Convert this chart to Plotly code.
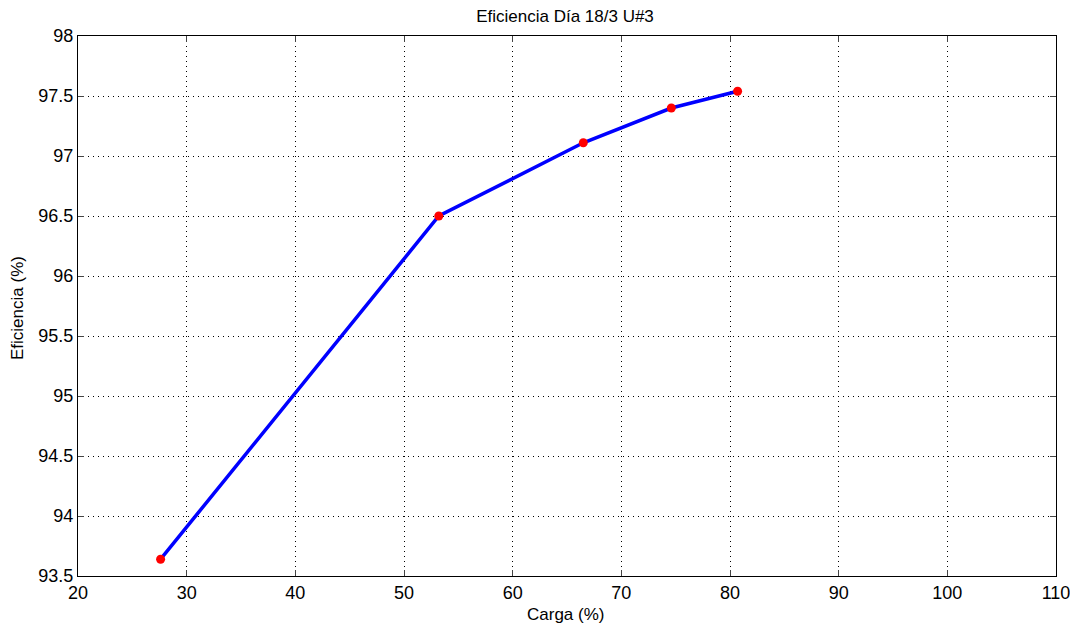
import plotly.graph_objects as go

carga = [27.6, 53.2, 66.5, 74.6, 80.7]
eficiencia = [93.64, 96.50, 97.11, 97.40, 97.54]

x_ticks = [20, 30, 40, 50, 60, 70, 80, 90, 100, 110]
y_ticks = [93.5, 94, 94.5, 95, 95.5, 96, 96.5, 97, 97.5, 98]

W, H = 1070, 620

fig = go.Figure()
fig.add_trace(go.Scatter(
    x=carga, y=eficiencia, mode="lines+markers",
    line=dict(color="#0000ff", width=3.5),
    marker=dict(color="#ff0000", size=9),
    showlegend=False,
))

font = "Liberation Sans, Arial, sans-serif"
axis_common = dict(
    showgrid=True, gridcolor="#000000", gridwidth=1, griddash="1px,4px",
    showline=True, linecolor="#000000", linewidth=1, mirror="ticks",
    ticks="inside", ticklen=6, tickcolor="#444444", tickwidth=1,
    zeroline=False, automargin=False,
    tickfont=dict(family=font, size=18, color="#000000"),
)

fig.update_layout(
    width=W, height=H,
    margin=dict(l=70, r=22, t=28, b=52, autoexpand=False),
    paper_bgcolor="white", plot_bgcolor="white",
    title=dict(text="Eficiencia Día 18/3 U#3", x=557 / W, xanchor="center", y=1 - 8 / H, yanchor="middle",
               font=dict(family=font, size=17, color="#000000")),
    xaxis=dict(range=[20, 110], tickvals=x_ticks, ticktext=[str(v) for v in x_ticks], **axis_common),
    yaxis=dict(range=[93.5, 98], tickvals=y_ticks, ticktext=[("%g" % v) for v in y_ticks], **axis_common),
    annotations=[
        dict(text="Carga (%)", xref="paper", yref="paper", x=(557 - 70) / (W - 92), y=-(606 - 568) / 540,
             xanchor="center", yanchor="middle", showarrow=False,
             font=dict(family=font, size=17, color="#000000")),
        dict(text="Eficiencia (%)", xref="paper", yref="paper", x=-(70 - 9) / (W - 92), y=(568 - 300) / 540,
             xanchor="center", yanchor="middle", showarrow=False, textangle=-90,
             font=dict(family=font, size=17, color="#000000")),
    ],
)

fig.write_html("out.html")
